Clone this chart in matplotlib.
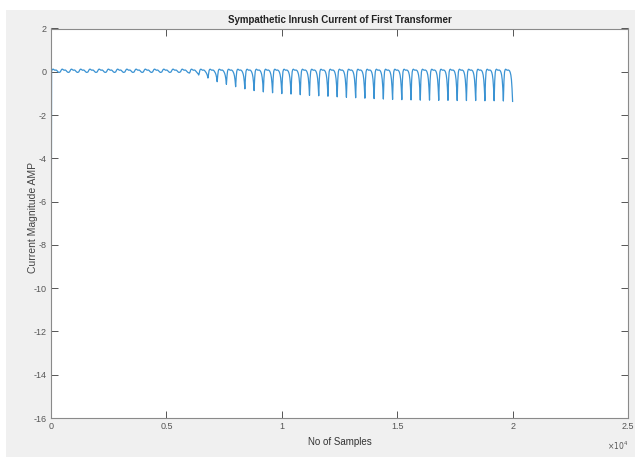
import numpy as np
import matplotlib.pyplot as plt
from matplotlib.patches import Rectangle
from matplotlib.ticker import FuncFormatter

# data --------------------------------------------------------------------
period = 400                      # samples per cycle (50 cycles up to 20000)
start_value = -16.0               # first sample (inrush spike at t=0)

# one cycle shape, 16 points, offsets 25..400
hump_shape = [0.04, 0.09, 0.12, 0.12, 0.10, 0.08, 0.07, 0.08,
              0.08, 0.06, 0.03, 0.00, -0.02, -0.03, -0.02, -0.01]
dip_shape = [-0.35, -0.08, -0.02, 0.0, 0.0, 0.0, 0.0, 0.0,
             0.0, 0.0, 0.0, -0.03, -0.10, -0.25, -0.55, -1.0]

# depth of the dip at the end of each cycle
dip_depth = [0.0, 0.0, 0.0, 0.0, 0.0, 0.0, 0.0, 0.0, 0.0, 0.0,
             0.0, 0.0, 0.0, 0.0, 0.05, 0.14, 0.28, 0.45, 0.57, 0.68,
             0.78, 0.86, 0.92, 0.96, 1.00, 1.02, 1.05, 1.08, 1.10, 1.12,
             1.15, 1.17, 1.19, 1.21, 1.23, 1.25, 1.27, 1.28, 1.29, 1.30,
             1.30, 1.31, 1.31, 1.32, 1.32, 1.32, 1.33, 1.33, 1.34, 1.36]

title = "Sympathetic Inrush Current of First Transformer"
xlabel = "No of Samples"
ylabel = "Current Magnitude AMP"
xticks = [0, 5000, 10000, 15000, 20000, 25000]
yticks = list(range(-16, 3, 2))

# build the series ------------------------------------------------------------
offsets = np.arange(1, len(hump_shape) + 1) * (period // len(hump_shape))
xs = [0]
ys = [start_value]
for k, d in enumerate(dip_depth):
    for off, h, s in zip(offsets, hump_shape, dip_shape):
        xs.append(k * period + off)
        ys.append(h + d * s)
xs = np.array(xs)
ys = np.array(ys)

# figure ------------------------------------------------------------------------
narrow = ["Liberation Sans Narrow", "Liberation Sans", "DejaVu Sans"]
plt.rcParams["font.family"] = narrow
plt.rcParams["axes.unicode_minus"] = False

fig = plt.figure(figsize=(6.35, 4.57), dpi=100)
fig.patch.set_facecolor("white")
fig.patches.append(Rectangle((6 / 635, 0), 1, 1 - 10 / 457, transform=fig.transFigure,
                             facecolor="#f0f0f0", edgecolor="none", zorder=-10))

ax = fig.add_axes([51 / 635, 1 - 418 / 457, 577 / 635, 389.5 / 457])
ax.set_facecolor("white")
ax.plot(xs, ys, color="#3b93d3", lw=0.9)

ax.set_xlim(0, 25000)
ax.set_ylim(-16, 2)
ax.set_xticks(xticks)
ax.set_yticks(yticks)
ax.xaxis.set_major_formatter(FuncFormatter(lambda v, p: "%g" % (v / 1e4)))

for sp in ax.spines.values():
    sp.set_color("#8a8a8a")
    sp.set_linewidth(0.8)
ax.tick_params(direction="in", length=5, width=0.7, color="#555555",
               labelsize=6.5, labelcolor="#555555", top=True, right=True, pad=3)

ax.set_title(title, fontsize=7, fontweight="bold", color="#222222", pad=4)
ax.set_xlabel(xlabel, fontsize=7, color="#333333", labelpad=4)
ax.set_ylabel(ylabel, fontsize=7.5, color="#444444",
              family=["Liberation Sans", "DejaVu Sans"])
ax.yaxis.set_label_coords(-0.023, 0.515)
ax.text(1.0, -0.055, r"$\times10^4$", transform=ax.transAxes, fontsize=5.5,
        color="#555555", ha="right", va="top")

fig.savefig("out.png", dpi=100, facecolor=fig.get_facecolor())
